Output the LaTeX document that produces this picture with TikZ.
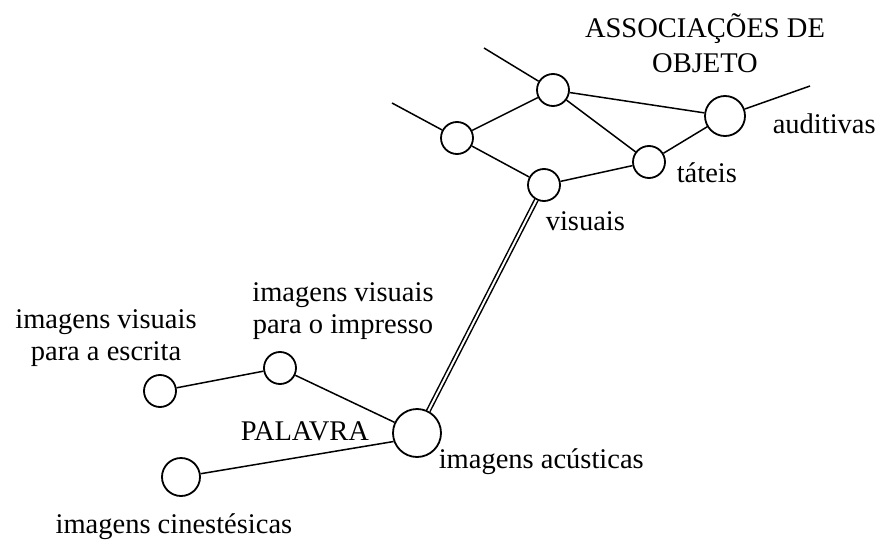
\documentclass[tikz,border=0pt]{standalone}
\usepackage{fontspec}
\setmainfont{Liberation Serif}
\usetikzlibrary{positioning}

\begin{document}
\begin{tikzpicture}[
                    x=1pt, y=-1pt,
                    line width=1.5pt,
                    knot/.style={circle, draw, line width=1.8pt, inner sep=0pt, minimum size=#1},
                    knot/.default=32,
                    lbl/.style={font=\fontsize{28.5}{32}\selectfont, inner sep=0pt, align=center, anchor=base}]

                \useasboundingbox (0,0) rectangle (879,546);

                % object associations
                \draw(553,90) node[knot] (T) {};
                \draw(457,138) node[knot] (L) {};
                \draw(725,116) node[knot=40] (A) {};
                \draw(649,162) node[knot] (Tt) {};
                \draw(544,185) node[knot] (V) {};
                \coordinate (tl) at (484,48);
                \coordinate (ll) at (392,103);
                \coordinate (ar) at (810,86);

                % word
                \draw(417,433) node[knot=48] (P) {};
                \draw(280,368) node[knot] (I) {};
                \draw(160,391) node[knot] (E) {};
                \draw(181,477) node[knot=38] (C) {};

                \draw(705,72) node[lbl] (assoc) {ASSOCIAÇÕES DE\\[3pt]OBJETO};
                \draw(772,133) node[lbl, anchor=base west] (aud) {auditivas};
                \draw(676,182) node[lbl, anchor=base west] (tat) {táteis};
                \draw(545,230) node[lbl, anchor=base west] (vis) {visuais};
                \draw(343,333) node[lbl] (imp) {imagens visuais\\para o impresso};
                \draw(106,360) node[lbl] (esc) {imagens visuais\\para a escrita};
                \draw(240,440) node[lbl, anchor=base west] (pal) {PALAVRA};
                \draw(438,468) node[lbl, anchor=base west] (acu) {imagens acústicas};
                \draw(293,533) node[lbl, anchor=base east] (cin) {imagens cinestésicas};

                \draw (tl) -- (T);
                \draw (ll) -- (L);
                \draw (A) -- (ar);
                \draw (L) -- (T);
                \draw (T) -- (A);
                \draw (T) -- (Tt);
                \draw (L) -- (V);
                \draw (V) -- (Tt);
                \draw (Tt) -- (A);
                \draw[double, double distance=2pt] (V) -- (P);
                \draw (E) -- (I);
                \draw (I) -- (P);
                \draw (C) -- (P.200);

            \end{tikzpicture}
\end{document}
